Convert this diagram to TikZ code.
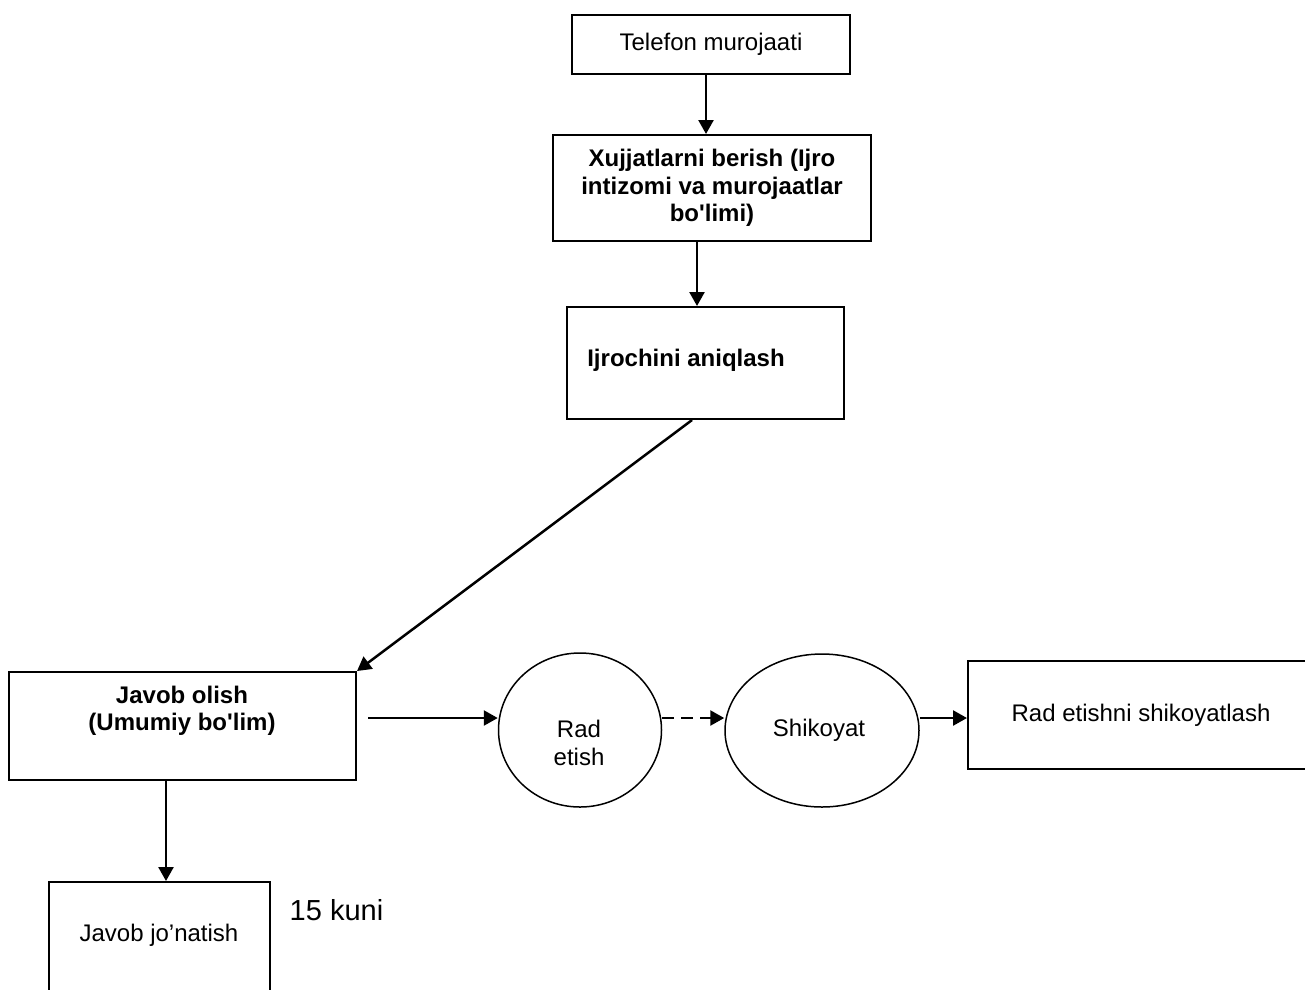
\documentclass[tikz,border=0pt]{standalone}
\usepackage{fontspec}
\setmainfont{Liberation Sans}[Ligatures=TeXOff]
\usetikzlibrary{arrows.meta,shapes.geometric}
\begin{document}
\begin{tikzpicture}[x=1pt,y=-1pt,
  box/.style={draw,line width=2pt,rectangle,inner sep=0pt},
  ell/.style={draw,line width=1.5pt,ellipse,inner sep=0pt},
  txt/.style={font=\fontsize{24}{27.5}\selectfont,align=center,inner sep=0pt},
  btxt/.style={txt,font=\fontsize{24}{27.5}\selectfont\bfseries},
  arr/.style={line width=2.5pt,-{Triangle[length=14pt,width=15pt]}}]
\useasboundingbox (0,0) rectangle (1305,989);
% boxes
\node[box,txt,minimum width=278pt,minimum height=59pt] (b1) at (711,44.5) {Telefon murojaati};
\node[box,btxt,minimum width=318pt,minimum height=106pt] (b2) at (712,188) {Xujjatlarni berish (Ijro\\intizomi va murojaatlar\\bo'limi)};
\node[box,minimum width=277pt,minimum height=112pt] (b3) at (705.5,363) {};
\node[btxt] (b3t) at (686,360) {Ijrochini aniqlash};
\node[box,minimum width=347pt,minimum height=108pt] (b4) at (182.5,726) {};
\node[btxt] (b4t) at (182,711) {Javob olish\\(Umumiy bo'lim)};
\node[box,minimum width=221pt,minimum height=113pt] (b5) at (159.5,938.5) {};
\node[txt] (b5t) at (159,935) {Javob jo’natish};
\node[txt,font=\fontsize{29}{33}\selectfont] (kuni) at (336.5,910) {15 kuni};
\node[box,txt,minimum width=346pt,minimum height=108pt] (b6) at (1141,715) {Rad etishni shikoyatlash};
% ellipses
\node[ell,minimum width=163pt,minimum height=154pt] (c1) at (580,730) {};
\node[txt] (c1t) at (579,743) {Rad\\etish};
\node[ell,minimum width=194pt,minimum height=153pt] (c2) at (822,730.5) {};
\node[txt] (c2t) at (819,730) {Shikoyat};
% connectors
\draw[arr] ([xshift=-5pt]b1.south) -- ([xshift=-6pt]b2.north);
\draw[arr] ([xshift=-15pt]b2.south) -- ([xshift=-8.5pt]b3.north);
\draw[arr] ([xshift=-13.5pt]b3.south) -- (b4.north east);
\draw[arr] ([xshift=-16.5pt]b4.south) -- ([xshift=6.5pt]b5.north);
\draw[arr] ([xshift=11pt,yshift=8pt]b4.east) -- ([yshift=12pt]c1.west);
\draw[arr,dash pattern=on 12pt off 7pt] ([yshift=12pt]c1.east) -- ([yshift=12.5pt]c2.west);
\draw[arr] ([yshift=12.5pt]c2.east) -- ([yshift=-3pt]b6.west);
\end{tikzpicture}
\end{document}
